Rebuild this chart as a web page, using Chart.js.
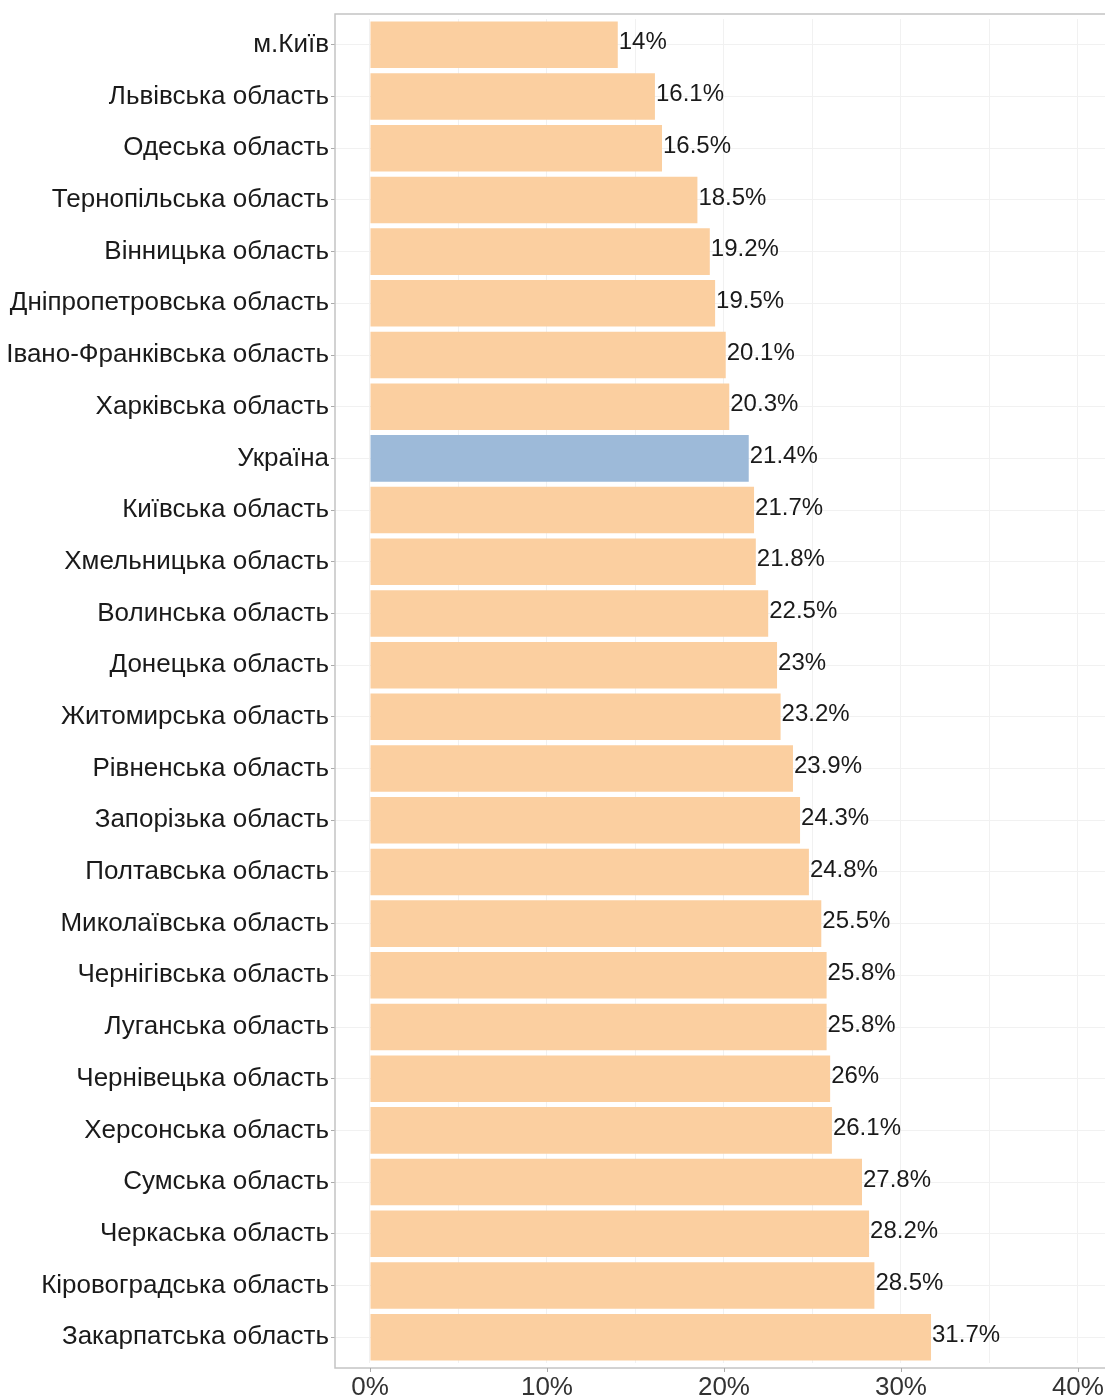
<!DOCTYPE html>
<html lang="uk">
<head>
    <meta charset="UTF-8">
    <title>Області</title>
    <script src="https://cdn.jsdelivr.net/npm/chart.js"></script>
    <style>
        body { margin: 0; background: #fff; }
        canvas { display: block; }
    </style>
</head>
<body>
    <canvas id="regionsChart" width="1105" height="1397"></canvas>

    <script>
        // regions, top to bottom
        const regions = [
            "м.Київ", "Львівська область", "Одеська область", "Тернопільська область",
            "Вінницька область", "Дніпропетровська область", "Івано-Франківська область",
            "Харківська область", "Україна", "Київська область", "Хмельницька область",
            "Волинська область", "Донецька область", "Житомирська область",
            "Рівненська область", "Запорізька область", "Полтавська область",
            "Миколаївська область", "Чернігівська область", "Луганська область",
            "Чернівецька область", "Херсонська область", "Сумська область",
            "Черкаська область", "Кіровоградська область", "Закарпатська область"
        ];
        const shares = [
            14, 16.1, 16.5, 18.5, 19.2, 19.5, 20.1, 20.3, 21.4, 21.7, 21.8, 22.5, 23,
            23.2, 23.9, 24.3, 24.8, 25.5, 25.8, 25.8, 26, 26.1, 27.8, 28.2, 28.5, 31.7
        ];
        const xTicks = [0, 5, 10, 15, 20, 25, 30, 35, 40];
        const highlight = "Україна";

        const FONT = "'Liberation Sans', Arial, sans-serif";
        const PAD = 5; // panel frame sits a little outside the category range

        // value labels at the end of every bar
        const valueLabels = {
            id: "valueLabels",
            afterDatasetsDraw(chart) {
                const ctx = chart.ctx;
                const meta = chart.getDatasetMeta(0);
                ctx.save();
                ctx.font = "24px " + FONT;
                ctx.fillStyle = "#1a1a1a";
                ctx.textAlign = "left";
                ctx.textBaseline = "middle";
                meta.data.forEach((bar, i) => {
                    ctx.fillText(shares[i] + "%", bar.x + 1, bar.y - 2);
                });
                ctx.restore();
            }
        };

        // frame round the panel + x tick marks under it
        const panelBox = {
            id: "panelBox",
            afterDraw(chart) {
                const a = chart.chartArea;
                const ctx = chart.ctx;
                const x = chart.scales.x;
                const top = a.top - PAD, bottom = a.bottom + PAD;
                ctx.save();
                ctx.strokeStyle = "#c4c4c4";
                ctx.lineWidth = 1.5;
                ctx.strokeRect(a.left, top, a.right - a.left + 10, bottom - top);
                ctx.strokeStyle = "#aaa";
                ctx.lineWidth = 1;
                xTicks.filter(v => v % 10 === 0).forEach(v => {
                    const px = Math.round(x.getPixelForValue(v)) + 0.5;
                    ctx.beginPath();
                    ctx.moveTo(px, bottom);
                    ctx.lineTo(px, bottom + 4);
                    ctx.stroke();
                });
                ctx.restore();
            }
        };

        const ctx = document.getElementById("regionsChart").getContext("2d");
        new Chart(ctx, {
            type: "bar",
            data: {
                labels: regions,
                datasets: [{
                    data: shares,
                    backgroundColor: regions.map(r => r === highlight ? "#9dbad9" : "#fbcfa0"),
                    borderWidth: 0,
                    categoryPercentage: 1,
                    barPercentage: 0.9
                }]
            },
            options: {
                indexAxis: "y",
                responsive: false,
                animation: false,
                layout: { padding: { top: 14 + PAD, left: 0, right: 0, bottom: 0 } },
                plugins: {
                    legend: { display: false },
                    tooltip: { enabled: false }
                },
                scales: {
                    x: {
                        min: -1.977,
                        max: 41.53,
                        afterBuildTicks: scale => {
                            scale.ticks = xTicks.map(v => ({ value: v }));
                        },
                        afterFit: scale => {
                            scale.height = 29 + PAD;
                            scale.paddingLeft = 0;
                            scale.paddingRight = 0;
                        },
                        grid: {
                            color: "#f1f1f1",
                            drawTicks: false
                        },
                        border: { display: false },
                        ticks: {
                            autoSkip: false,
                            maxRotation: 0,
                            padding: 9,
                            color: "#333",
                            font: { family: FONT, size: 26 },
                            callback: v => (v % 10 === 0) ? v + "%" : ""
                        }
                    },
                    y: {
                        afterFit: scale => {
                            scale.width = 335;
                            scale.paddingTop = 0;
                            scale.paddingBottom = 0;
                        },
                        grid: {
                            offset: false,
                            color: "#f1f1f1",
                            tickLength: 4,
                            tickColor: "#aaa"
                        },
                        border: { display: false },
                        ticks: {
                            autoSkip: false,
                            padding: 2,
                            color: "#1a1a1a",
                            font: { family: FONT, size: 26 }
                        }
                    }
                }
            },
            plugins: [valueLabels, panelBox]
        });
    </script>
</body>
</html>
